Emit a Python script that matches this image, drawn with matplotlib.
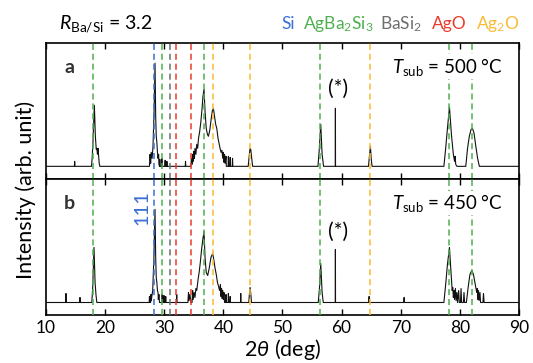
import matplotlib
matplotlib.use('Agg')
import matplotlib.pyplot as plt

# 2theta (deg) / intensity (arb.)
a_tth = [10, 14.8, 14.85, 14.9,
         17.7, 17.8, 17.95, 18.18, 18.35, 18.5, 18.6, 18.7, 18.8, 18.9, 19.0, 19.1,
         27.5, 27.6, 27.7, 27.8, 27.95, 28.1, 28.3, 28.44, 28.55, 28.65, 28.75, 28.85, 28.95, 29.05,
         29.1, 29.2, 29.25, 29.3, 29.55, 29.6, 29.65, 30.1, 30.15, 30.2, 30.4, 30.45, 30.5,
         33.55, 33.6, 33.65,
         34.5, 34.6, 34.7, 34.8, 34.9, 35.0, 35.1, 35.2, 35.35, 35.5, 35.65, 35.8, 36.0, 36.2, 36.4,
         36.55, 36.73, 36.9, 37.1, 37.3, 37.47, 37.7, 37.95, 38.15, 38.31, 38.5, 38.7, 38.88, 39.1,
         39.3, 39.44, 39.6, 39.75, 39.9, 40.0, 40.1, 40.2, 40.3, 40.45, 40.5, 40.8, 40.85, 40.9,
         41.1, 41.15, 41.2, 41.5, 41.55, 41.6,
         44.2, 44.3, 44.4, 44.5, 44.63, 44.75, 44.85, 44.95,
         56.0, 56.2, 56.47, 56.7, 56.95,
         58.93, 58.95, 58.97,
         64.55, 64.7, 64.87, 65.0, 65.15,
         77.3, 77.6, 77.9, 78.24, 78.6, 78.9, 79.1, 79.2, 79.3, 79.5,
         81.0, 81.3, 81.6, 81.9, 82.13, 82.4, 82.7, 83.0, 83.3,
         90]
a_int = [0, 0, 5, 0,
         0, 8, 25, 61, 30, 17, 18, 12, 18, 10, 3, 0,
         0, 12, 3, 14, 8, 20, 60, 103, 50, 30, 24, 14, 8, 12,
         2, 0, 7, 0, 0, 8, 0, 0, 6, 0, 0, 5, 0,
         0, 5, 0,
         0, 8, 2, 12, 5, 15, 8, 18, 12, 22, 18, 28, 35, 45, 58,
         70, 77, 55, 38, 32, 30, 36, 48, 56, 58, 50, 42, 38, 28,
         22, 18, 14, 16, 8, 14, 4, 12, 3, 10, 0, 0, 10, 0,
         0, 9, 0, 0, 8, 0,
         0, 6, 12, 18, 17, 10, 5, 0,
         0, 15, 42, 12, 0,
         0, 58, 0,
         0, 10, 20, 8, 0,
         0, 18, 38, 59, 30, 12, 5, 10, 2, 0,
         0, 18, 30, 37, 38, 33, 20, 8, 0,
         0]

b_tth = [10, 13.35, 13.38, 13.41, 15.72, 15.75, 15.78,
         17.75, 17.9, 18.12, 18.3, 18.45, 18.6,
         27.45, 27.5, 27.55, 27.7, 27.75, 27.8, 27.9, 28.05, 28.25, 28.44, 28.55, 28.65, 28.75,
         28.85, 28.95, 29.0, 29.1, 29.2, 29.6, 29.65, 29.7, 29.9, 29.95, 30.0, 30.2, 30.25, 30.3,
         32.08, 32.11, 32.14,
         34.0, 34.1, 34.2, 34.35, 34.5, 34.7, 34.8, 34.9, 35.05, 35.2, 35.35, 35.5, 35.7, 35.9,
         36.1, 36.3, 36.5, 36.73, 36.9, 37.1, 37.35, 37.6, 37.9, 38.2, 38.4, 38.6, 38.8, 39.0,
         39.2, 39.35, 39.5, 39.6, 39.7, 39.8, 39.9, 40.0, 40.1, 40.2, 40.4, 40.45, 40.5, 40.8,
         40.85, 40.9, 41.1, 41.15, 41.2,
         42.9, 42.94, 42.98,
         44.3, 44.4, 44.52, 44.65, 44.75,
         56.05, 56.25, 56.47, 56.7, 56.9,
         58.93, 58.95, 58.97,
         64.62, 64.65, 64.68,
         70.54, 70.57, 70.6,
         77.3, 77.6, 77.9, 78.24, 78.5, 78.7, 78.8, 78.9, 79.0, 79.1, 79.25, 79.35, 79.5, 79.6,
         79.8, 79.9, 80.1, 80.2, 80.3, 80.6, 80.7, 80.8,
         81.1, 81.4, 81.7, 82.02, 82.3, 82.6, 82.85, 82.95, 83.05, 83.15, 83.25, 83.4, 83.5,
         83.9, 84.0, 84.1,
         90]
b_int = [0, 0, 9, 0, 0, 5, 0,
         0, 15, 55, 20, 8, 0,
         0, 6, 0, 0, 8, 2, 6, 12, 45, 93, 45, 25, 20,
         12, 10, 3, 8, 0, 0, 8, 0, 0, 7, 0, 0, 6, 0,
         0, 8, 0,
         0, 10, 2, 8, 0, 0, 12, 3, 10, 5, 14, 12, 22, 30,
         40, 52, 62, 71, 45, 30, 27, 34, 45, 49, 42, 34, 28, 20,
         16, 12, 18, 6, 14, 4, 12, 3, 10, 0, 0, 8, 0, 0,
         9, 0, 0, 6, 0,
         0, 9, 0,
         0, 8, 15, 8, 0,
         0, 14, 39, 10, 0,
         0, 53, 0,
         0, 6, 0,
         0, 5, 0,
         0, 18, 38, 55, 30, 12, 15, 5, 12, 3, 14, 2, 10, 0,
         12, 0, 0, 14, 0, 0, 10, 0,
         0, 15, 28, 32, 28, 18, 10, 14, 3, 12, 2, 10, 0,
         0, 9, 0,
         0]
assert len(a_tth) == len(a_int) and len(b_tth) == len(b_int)

# reference peak positions (deg)
ref_si = [28.35]
ref_agba2si3 = [18.0, 29.7, 36.7, 56.4, 78.2, 82.0]
ref_basi2 = [30.95]
ref_ago = [32.0, 34.5]
ref_ag2o = [38.2, 44.5, 64.8]

c_si = '#3b6fd6'
c_agba2si3 = '#4fb04f'
c_basi2 = '#6e6e6e'
c_ago = '#ec3a2c'
c_ag2o = '#f8bb35'

plt.rcParams['font.family'] = ['Lato', 'DejaVu Sans']
plt.rcParams['font.size'] = 12
plt.rcParams['mathtext.fontset'] = 'custom'
plt.rcParams['mathtext.rm'] = 'Lato'
plt.rcParams['mathtext.it'] = 'Lato:italic'
plt.rcParams['mathtext.bf'] = 'Lato:bold'
plt.rcParams['mathtext.fallback'] = 'stixsans'

fig, (ax1, ax2) = plt.subplots(2, 1, sharex=True, figsize=(5.33, 3.63), dpi=100)
fig.subplots_adjust(left=0.0863, right=0.9737, top=0.8824, bottom=0.1322, hspace=0)

refs = [(ref_si, c_si), (ref_agba2si3, c_agba2si3), (ref_basi2, c_basi2),
        (ref_ago, c_ago), (ref_ag2o, c_ag2o)]

for ax, tth, inten, label, temp in [(ax1, a_tth, a_int, 'a', '500'),
                                     (ax2, b_tth, b_int, 'b', '450')]:
    ax.plot(tth, inten, color='#111111', lw=0.8, zorder=2)
    for pos, col in refs:
        for p in pos:
            ax.axvline(p, color=col, lw=1.1, ls=(0, (4, 2.5)), zorder=3)
    ax.set_xlim(10, 90)
    ax.set_ylim(-12.5, 123.5)
    ax.set_yticks([])
    ax.tick_params(axis='x', direction='in', top=True, bottom=True, length=4.5, width=1,
                   labelsize=12.5)
    for s in ax.spines.values():
        s.set_linewidth(1.2)
    ax.text(0.05, 0.82, label, transform=ax.transAxes, fontsize=14, fontweight='bold',
            ha='center', va='center', color='#333333')
    ax.text(0.9655, 0.824, r'$T_{\mathrm{sub}}$ = ' + temp + ' °C', transform=ax.transAxes,
            ha='right', va='center', fontsize=13.5, zorder=5,
            bbox=dict(facecolor='white', edgecolor='none', pad=1))
    ax.text(59.4, 77 if temp == '500' else 71, '(*)', ha='center', va='center', fontsize=15)

ax2.text(26.2, 95, '111', color=c_si, rotation=90, ha='center', va='center', fontsize=14.5)

ax2.set_xticks(range(10, 91, 10))
ax2.set_xlabel(r'2$\mathit{\theta}$ (deg)', fontsize=15.5, labelpad=1)
fig.text(26 / 533, 1 - 190 / 363, 'Intensity (arb. unit)', rotation=90,
         ha='center', va='center', fontsize=15.5)

fig.text(59 / 533, 1 - 24 / 363, r'$R_{\mathrm{Ba/Si}}$ = 3.2', ha='left', va='center', fontsize=14)
for txt, col, xc in [('Si', c_si, 287.8), (r'AgBa$_2$Si$_3$', c_agba2si3, 338),
                     (r'BaSi$_2$', c_basi2, 401), ('AgO', c_ago, 449.7),
                     (r'Ag$_2$O', c_ag2o, 497.8)]:
    fig.text(xc / 533, 1 - 24 / 363, txt, color=col, ha='center', va='center', fontsize=12.5)

fig.savefig('out.png', dpi=100)
